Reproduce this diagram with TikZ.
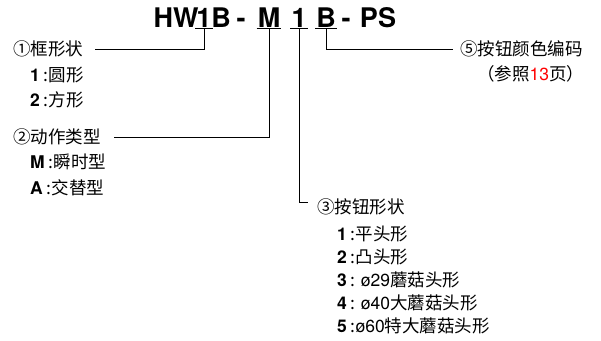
\documentclass[tikz,border=0pt]{standalone}
\usepackage{fontspec}
\setmainfont{Noto Sans CJK SC}
\newfontfamily\heros{TeX Gyre Heros}
\newcommand\chiffre[1]{{\heros\bfseries #1}}
\newcommand\latin[1]{{\heros #1}}
\begin{document}
\begin{tikzpicture}[x=1pt,y=-1pt]
	% Styles
	\tikzstyle{titre}=[inner sep=0pt,anchor=base,font=\heros\bfseries\fontsize{27}{27}\selectfont]
	\tikzstyle{souligne}=[titre,inner sep=1pt]
	\tikzstyle{rubrique}=[inner sep=0pt,anchor=west,font=\fontsize{17.5}{20}\selectfont]
	\tikzstyle{option}=[rubrique]
	\tikzstyle{trait}=[-,line width=0.9pt]
	% Dimensions
	\def\Base{27}
	\def\ColA{13}
	\def\ColB{30}
	\useasboundingbox (0,0) rectangle (601,340);
	% Reference
	\node[titre] (hw) at (176,\Base) {HW};
	\node[souligne] (u1) at (204,\Base) {1};
	\node[titre] (b1) at (221,\Base) {B};
	\node[titre] (t1) at (241,\Base) {-};
	\node[souligne] (u2) at (269,\Base) {M};
	\node[souligne] (u3) at (299,\Base) {1};
	\node[souligne] (u5) at (326,\Base) {B};
	\node[titre] (t2) at (346,\Base) {-};
	\node[titre] (ps) at (378,\Base) {PS};
	% Rubriques
	\node[rubrique] (r1) at (\ColA,49) {①框形状};
	\node[option] (r1a) at (\ColB,75) {\chiffre{1} :圆形};
	\node[option] (r1b) at (\ColB,100) {\chiffre{2} :方形};
	\node[rubrique] (r2) at (\ColA,137) {②动作类型};
	\node[option] (r2a) at (\ColB,162) {\chiffre{M} :瞬时型};
	\node[option] (r2b) at (\ColB,188) {\chiffre{A} :交替型};
	\node[rubrique] (r3) at (317,207) {③按钮形状};
	\node[option] (r3a) at (337,234) {\chiffre{1} :平头形};
	\node[option] (r3b) at (337,257) {\chiffre{2} :凸头形};
	\node[option] (r3c) at (337,280) {\chiffre{3} : \latin{ø29}蘑菇头形};
	\node[option] (r3d) at (337,303) {\chiffre{4} : \latin{ø40}大蘑菇头形};
	\node[option] (r3e) at (337,326) {\chiffre{5} :\latin{ø60}特大蘑菇头形};
	\node[rubrique] (r5) at (460,49) {⑤按钮颜色编码};
	\node[option] (r5a) at (477,74) {（参照\textcolor{red}{\latin{13}}页）};
	% Traits
	\foreach \u in {u1,u2,u3,u5}
		\draw[trait] (\u.south west) -- (\u.south east);
	\draw[trait] (u1.south) |- ([xshift=12pt]r1.east);
	\draw[trait] (u2.south) |- ([xshift=13pt]r2.east);
	\draw[trait] (u3.south) |- ([xshift=-9pt,yshift=5pt]r3.west);
	\draw[trait] (u5.south) |- ([xshift=-7pt]r5.west);
\end{tikzpicture}
\end{document}
